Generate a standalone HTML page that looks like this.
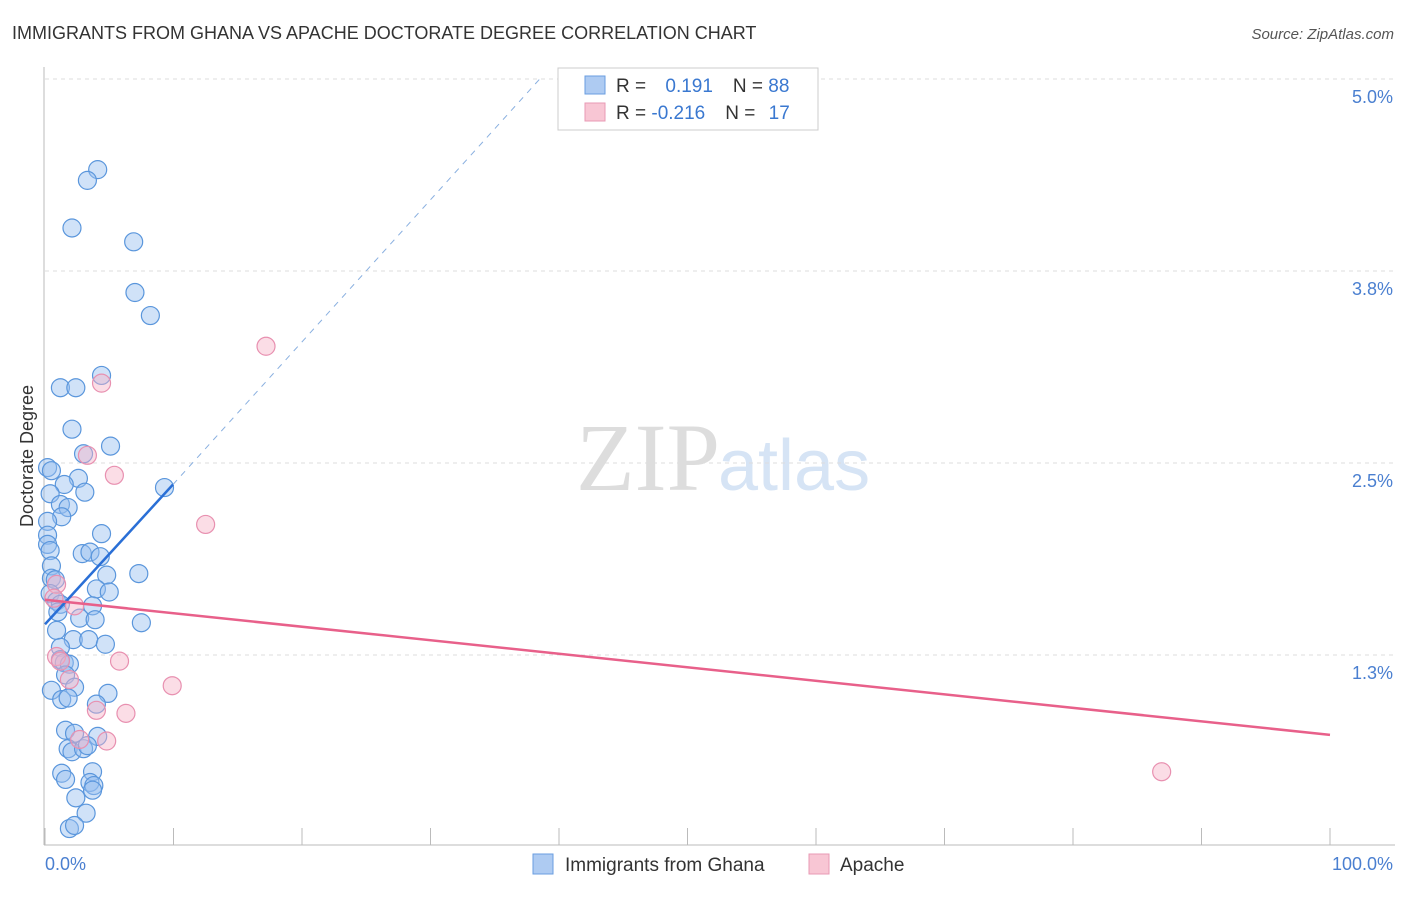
<!DOCTYPE html>
<html><head><meta charset="utf-8"><style>
body{margin:0;background:#fff;font-family:"Liberation Sans",sans-serif}
</style></head><body>
<svg width="1406" height="892" xmlns="http://www.w3.org/2000/svg">
<text x="12" y="39" font-size="18" fill="#333">IMMIGRANTS FROM GHANA VS APACHE DOCTORATE DEGREE CORRELATION CHART</text>
<text x="1394" y="39" font-size="15" fill="#555" text-anchor="end" font-style="italic">Source: ZipAtlas.com</text>
<text x="720" y="490" font-size="96" fill="#ddd" text-anchor="end" font-family="Liberation Serif">ZIP</text>
<text x="718" y="490" font-size="72" fill="#d6e4f5">atlas</text>
<g id="grid"></g>
<line x1="44" y1="67" x2="44" y2="845" stroke="#bbb"/>
<line x1="44" y1="845" x2="1395" y2="845" stroke="#bbb"/>
<text transform="translate(33,456) rotate(-90)" font-size="18" fill="#333" text-anchor="middle">Doctorate Degree</text>
<text x="45" y="870" font-size="18" fill="#4a7fd0">0.0%</text>
<text x="1393" y="870" font-size="18" fill="#4a7fd0" text-anchor="end">100.0%</text>
<g id="marks"></g>
<g>
<rect x="558" y="68" width="260" height="62" fill="#fff" stroke="#ccc"/>
<rect x="585" y="76" width="20" height="18" fill="#aecbf2" stroke="#6a9ee0"/>
<rect x="585" y="103" width="20" height="18" fill="#f8c6d4" stroke="#e89ab4"/>
<text x="616" y="92" font-size="19" fill="#333">R = <tspan fill="#3a78d0" dx="14">0.191</tspan><tspan dx="20" fill="#333">N = </tspan><tspan fill="#3a78d0">88</tspan></text>
<text x="616" y="119" font-size="19" fill="#333">R = <tspan fill="#3a78d0">-0.216</tspan><tspan dx="20" fill="#333">N = </tspan><tspan fill="#3a78d0" dx="8">17</tspan></text>
</g>
<g>
<rect x="533" y="854" width="20" height="20" fill="#aecbf2" stroke="#6a9ee0"/>
<text x="565" y="871" font-size="19" fill="#333">Immigrants from Ghana</text>
<rect x="809" y="854" width="20" height="20" fill="#f8c6d4" stroke="#e89ab4"/>
<text x="840" y="871" font-size="19" fill="#333">Apache</text>
</g>
</svg>
<script>
const yTicks=[5.0,3.75,2.5,1.25];
const yTickLabels=["5.0%","3.8%","2.5%","1.3%"];
const xTicks=[0,10,20,30,40,50,60,70,80,90,100];
const ghanaX=[4.1,3.3,2.1,6.9,7.0,8.2,4.4,1.2,2.4,2.1,5.1,3.0,0.2,0.5,2.6,1.5,0.4,3.1,1.2,1.8,1.3,0.2,9.3,4.4,0.2,0.2,0.4,2.9,3.5,4.3,0.5,0.5,0.8,4.8,7.3,4.0,5.0,0.4,0.9,1.2,3.7,1.0,2.7,3.9,7.5,0.9,2.2,3.4,4.7,1.2,1.2,1.5,1.9,1.6,0.5,2.3,4.9,1.3,1.8,4.0,1.6,2.3,4.1,1.8,2.1,3.0,3.3,1.3,1.6,3.7,3.5,3.8,2.4,3.2,1.9,2.3,3.7];
const ghanaY=[4.41,4.34,4.03,3.94,3.61,3.46,3.07,2.99,2.99,2.72,2.61,2.56,2.47,2.45,2.40,2.36,2.30,2.31,2.23,2.21,2.15,2.12,2.34,2.04,2.03,1.97,1.93,1.91,1.92,1.89,1.83,1.75,1.74,1.77,1.78,1.68,1.66,1.65,1.60,1.58,1.57,1.53,1.49,1.48,1.46,1.41,1.35,1.35,1.32,1.30,1.22,1.20,1.19,1.12,1.02,1.04,1.00,0.96,0.97,0.93,0.76,0.74,0.72,0.64,0.62,0.64,0.66,0.48,0.44,0.49,0.42,0.40,0.32,0.22,0.12,0.14,0.37];
const apacheX=[17.2,4.4,3.3,5.4,12.5,0.9,0.7,2.3,0.9,1.2,1.9,5.8,9.9,4.0,6.3,4.8,86.9,2.7];
const apacheY=[3.26,3.02,2.55,2.42,2.10,1.71,1.62,1.57,1.24,1.21,1.09,1.21,1.05,0.89,0.87,0.69,0.49,0.70];
const ghanaTrend=[[0,1.45],[9.96,2.36]];
const ghanaTrendExt=[[9.96,2.36],[38.5,5.0]];
const apacheTrend=[[0,1.61],[100,0.73]];
const X=v=>45+v*12.85, Y=v=>79+(5-v)*153.6;
const NS="http://www.w3.org/2000/svg";
const svg=document.querySelector('svg'),grid=document.getElementById('grid'),marks=document.getElementById('marks');
function mk(tag,attrs,parent){const e=document.createElementNS(NS,tag);for(const k in attrs)e.setAttribute(k,attrs[k]);parent.appendChild(e);return e;}
yTicks.forEach((t,i)=>{
 const l=mk('line',{x1:45,x2:1395,y1:Y(t),y2:Y(t),stroke:'#ddd','stroke-dasharray':'4,4'},grid);
 
 
 const tx=mk('text',{x:1393,y:Y(t)+24,'font-size':18,fill:'#4a7fd0','text-anchor':'end'},grid);
 tx.textContent=yTickLabels[i];
 
 
});
xTicks.forEach(t=>{
 const l=mk('line',{x1:X(t),x2:X(t),y1:828,y2:845,stroke:'#bbb'},grid);
 
 
});
function pts(xs,ys,fill,stroke,name){xs.forEach((x,i)=>{
 const c=mk('circle',{cx:X(x),cy:Y(ys[i]),r:9,fill:fill,stroke:stroke,'stroke-width':1.2},marks);
 
 
});}
pts(ghanaX,ghanaY,'rgba(150,190,240,0.45)','#5a96dc','ghana-point');
pts(apacheX,apacheY,'rgba(246,180,200,0.45)','#e890b0','apache-point');
function line(p,stroke,w,dash,name){
 const l=mk('line',{x1:X(p[0][0]),y1:Y(p[0][1]),x2:X(p[1][0]),y2:Y(p[1][1]),stroke:stroke,'stroke-width':w},marks);
 if(dash)l.setAttribute('stroke-dasharray',dash);
 
 
}
line(ghanaTrendExt,'#8ab0e0',1,'6,6','ghana-trend-extension');
line(ghanaTrend,'#2a6fd6',2.5,null,'ghana-trend-line');
line(apacheTrend,'#e8608a',2.5,null,'apache-trend-line');
</script>
</body></html>
